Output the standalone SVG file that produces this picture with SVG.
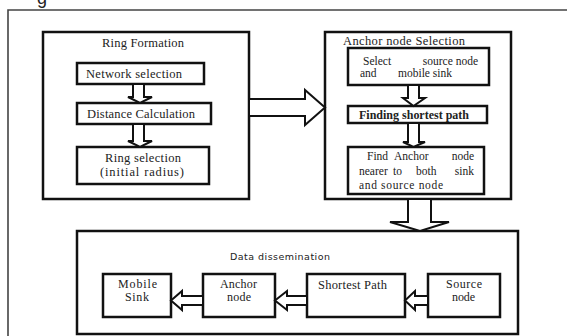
<svg xmlns="http://www.w3.org/2000/svg" width="567" height="336" viewBox="0 0 567 336">
<style>
.box{fill:#fff;stroke:#111;stroke-width:2.5}
.arr{fill:#fff;stroke:#111;stroke-width:2;stroke-linejoin:miter}
.t{font-family:"Liberation Serif","Times New Roman",serif;font-size:12.5px;fill:#222}
.t2{font-family:"Liberation Serif","Times New Roman",serif;font-size:12px;fill:#222}
.t3{font-family:"Liberation Serif","Times New Roman",serif;font-size:11.5px;fill:#222}
.tb{font-family:"Liberation Serif","Times New Roman",serif;font-size:12px;font-weight:bold;fill:#222}
.s{font-family:"DejaVu Sans",Verdana,sans-serif;font-size:9.5px;fill:#222}
.frame{fill:none;stroke:#444;stroke-width:1.6}
</style>
<rect width="567" height="336" fill="#fff"/>
<text x="37" y="4" font-family="Liberation Sans, Arial, sans-serif" font-size="18" fill="#222">g</text>
<path class="frame" d="M8,336 V10 H567"/>

<g id="ring-formation">
<rect class="box" x="43" y="32" width="206" height="167"/>
<text class="t" x="143" y="47" text-anchor="middle" textLength="82">Ring Formation</text>
</g>
<g id="network-selection">
<rect class="box" x="77" y="63" width="127" height="21"/>
<text class="t" x="134" y="77.5" text-anchor="middle" textLength="96">Network selection</text>
</g>
<g id="distance-calculation">
<rect class="box" x="77" y="103" width="134" height="21"/>
<text class="t" x="141" y="117.5" text-anchor="middle" textLength="108">Distance Calculation</text>
</g>
<g id="ring-selection">
<rect class="box" x="77" y="147" width="132" height="37"/>
<text class="t" x="143" y="162" text-anchor="middle" textLength="76">Ring selection</text>
<text class="t" x="142" y="176" text-anchor="middle" textLength="84">(initial radius)</text>
</g>

<g id="anchor-node-selection">
<rect class="box" x="325" y="32" width="186" height="167"/>
<text class="t" x="343" y="45" textLength="122">Anchor node Selection</text>
</g>
<g id="select-source">
<rect class="box" x="348" y="48" width="141" height="37"/>
<text class="t3" x="363" y="64.5">Select</text>
<text class="t3" x="478" y="64.5" text-anchor="end">source node</text>
<text class="t3" x="360" y="76.5">and</text>
<text class="t3" x="452" y="76.5" text-anchor="end">mobile sink</text>
</g>
<g id="finding-shortest-path">
<rect class="box" x="348" y="106" width="139" height="17"/>
<text class="tb" x="359" y="119" textLength="110">Finding shortest path</text>
</g>
<g id="find-anchor-node">
<rect class="box" x="348" y="147" width="136" height="47"/>
<text class="t3" x="367" y="160">Find</text>
<text class="t3" x="394" y="160">Anchor</text>
<text class="t3" x="474" y="160" text-anchor="end">node</text>
<text class="t3" x="359" y="175">nearer</text>
<text class="t3" x="393" y="175">to</text>
<text class="t3" x="416" y="175">both</text>
<text class="t3" x="474" y="175" text-anchor="end">sink</text>
<text class="t3" x="359" y="189" textLength="84">and source node</text>
</g>

<g id="data-dissemination">
<rect class="box" x="77" y="231" width="441" height="103"/>
<text class="s" x="230" y="260" textLength="100">Data dissemination</text>
</g>
<g id="mobile-sink">
<rect class="box" x="103" y="274" width="68" height="43"/>
<text class="t2" x="118" y="288" textLength="39">Mobile</text>
<text class="t2" x="125" y="301" textLength="24">Sink</text>
</g>
<g id="anchor-node">
<rect class="box" x="203" y="274" width="72" height="43"/>
<text class="t2" x="220" y="288" textLength="37">Anchor</text>
<text class="t2" x="227" y="301" textLength="24">node</text>
</g>
<g id="shortest-path">
<rect class="box" x="307" y="274" width="98" height="43"/>
<text class="t" x="318" y="289" textLength="69">Shortest Path</text>
</g>
<g id="source-node">
<rect class="box" x="428" y="274" width="72" height="43"/>
<text class="t2" x="446" y="288" textLength="36">Source</text>
<text class="t2" x="452" y="301" textLength="23">node</text>
</g>

<g id="connectors">
<polygon class="arr" points="133,84 133,97 128,97 140,103 152,97 144,97 144,84"/>
<polygon class="arr" points="133,124 133,141 128,141 140,147 152,141 144,141 144,124"/>
<polygon class="arr" points="249,99 305,99 305,90 325,107.5 305,125 305,116 249,116"/>
<polygon class="arr" points="408,85 408,98 403,98 413.5,106 425,98 419,98 419,85"/>
<polygon class="arr" points="408,123 408,142 403,142 413.5,147 425,142 419,142 419,123"/>
<polygon class="arr" points="408,199 408,222 390,222 420,231 449,222 431,222 431,199"/>
<polygon class="arr" points="203,296 182,296 182,291 171,300.5 182,310 182,305 203,305"/>
<polygon class="arr" points="307,296 287,296 287,291 275,300.5 287,310 287,305 307,305"/>
<polygon class="arr" points="428,296 415,296 415,291 405,300.5 415,310 415,305 428,305"/>
</g>
</svg>
